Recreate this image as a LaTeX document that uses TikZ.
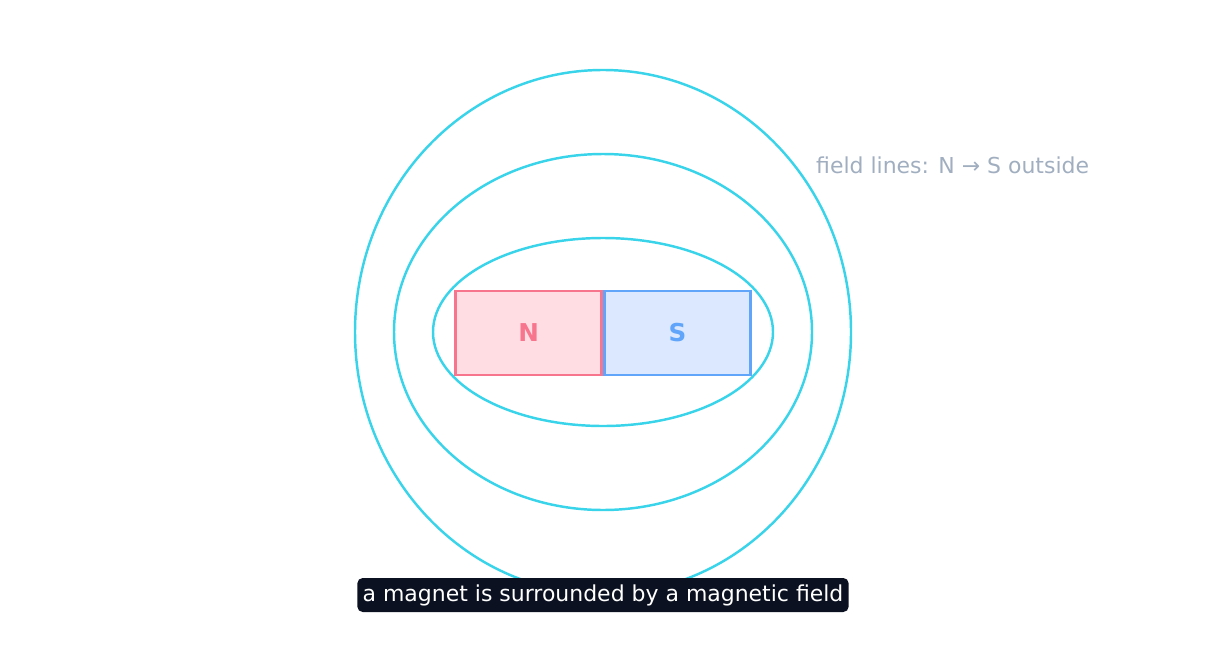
\documentclass[tikz,border=0pt]{standalone}
\usepackage{fontspec}
\setmainfont{DejaVu Sans}
\definecolor{fieldcyan}{HTML}{3AD4EA}
\definecolor{northred}{HTML}{F7768E}
\definecolor{northfill}{HTML}{FFDDE3}
\definecolor{southblue}{HTML}{60A5FA}
\definecolor{southfill}{HTML}{DBE8FF}
\definecolor{notegray}{HTML}{A0AEC0}
\definecolor{captionbg}{HTML}{0B1120}
\tikzset{
  fieldline/.style={draw=fieldcyan, line width=1.4pt},
  pole/.style={minimum width=2.92cm, minimum height=1.68cm, line width=1.6pt,
    inner sep=0pt, font=\fontsize{14}{16}\selectfont\bfseries},
}
\begin{document}
\begin{tikzpicture}[x=0.02cm,y=-0.02cm]
  \useasboundingbox (0,0) rectangle (1206,666);

  % field lines
  \foreach \rx/\ry in {248/262, 209/178, 170/94}
    \draw[fieldline] (603,332) ellipse [x radius=\rx, y radius=\ry];

  % magnet
  \node[pole, draw=northred, fill=northfill, text=northred, anchor=east] (north) at (603,333) {N};
  \node[pole, draw=southblue, fill=southfill, text=southblue, anchor=west] (south) at (603,333) {S};

  \node[anchor=west, text=notegray, font=\fontsize{12.5}{15}\selectfont] (note) at (810,165)
    {field lines: N → S outside};

  \node[fill=captionbg, text=white, rounded corners=3pt, inner sep=3pt, minimum height=0.68cm,
    font=\fontsize{12.5}{15}\selectfont] (caption) at (603,595)
    {a magnet is surrounded by a magnetic field};
\end{tikzpicture}
\end{document}
